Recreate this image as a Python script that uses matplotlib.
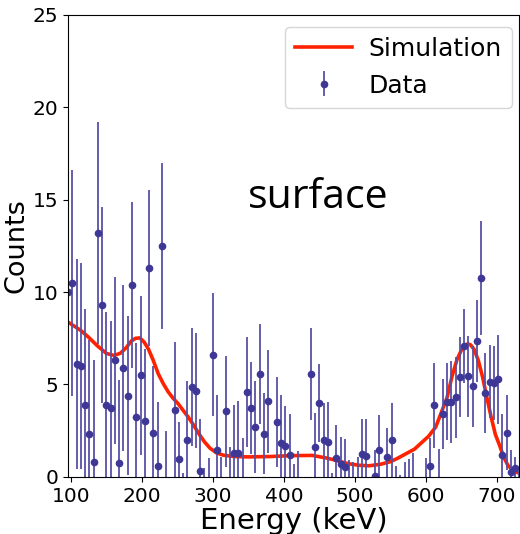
import numpy as np
import matplotlib
matplotlib.use('Agg')
import matplotlib.pyplot as plt

# measured spectrum, 6 keV bins
energy = np.arange(96, 733, 6)
counts = [10.0, 10.5, 6.1, 6.0, 3.9, 2.3, 0.8, 13.2, 9.3, 3.9,
          3.75, 6.3, 0.75, 5.9, 4.4, 10.4, 3.24, 5.5, 3.0, 11.3,
          2.4, 0.57, 12.5, -1.0, -2.5, 3.6, 0.96, -2.0, 2.0, 4.85,
          4.67, 0.32, -2.0, -1.5, 6.62, 1.43, -1.5, 3.55, -1.2, 1.3,
          1.3, -0.5, 4.59, 3.72, 2.7, 5.58, 2.34, 4.09, -2.5, 2.97,
          1.85, 1.65, 1.2, -1.5, -1.0, -2.5, -2.5, 5.58, 1.64, 4.0,
          1.98, 1.89, -1.8, 1.03, 0.67, 0.54, -0.8, -0.8, -0.6, 1.22,
          1.12, -2.0, 0.06, 1.43, -2.0, 1.07, 2.0, -1.0, -1.5, -0.8,
          -0.8, -0.5, -2.0, -2.0, -0.8, 0.58, 3.87, -0.5, 3.42, 4.07,
          4.05, 4.3, 5.4, 7.1, 5.45, 4.9, 7.35, 10.76, 4.54, 5.16,
          5.06, 5.27, 1.21, 2.4, 0.25, 0.5, -0.5]
errors = [6.0, 6.1, 5.7, 5.6, 5.2, 5.1, 5.5, 6.0, 5.3, 5.0,
          4.7, 4.5, 4.5, 4.5, 4.3, 4.5, 4.0, 4.3, 3.9, 4.2,
          3.6, 3.5, 4.5, 3.5, 2.0, 3.7, 2.0, 2.2, 3.2, 3.2,
          3.1, 2.8, 2.5, 2.5, 3.35, 3.0, 2.6, 3.0, 2.8, 2.6,
          2.8, 2.6, 3.0, 2.5, 2.5, 2.7, 2.2, 2.8, 2.0, 2.45,
          2.6, 2.2, 2.2, 2.2, 2.4, 2.0, 2.0, 2.5, 1.8, 2.1,
          2.0, 2.16, 2.0, 1.8, 1.5, 1.5, 1.7, 1.6, 1.7, 1.9,
          2.0, 1.5, 1.4, 1.9, 1.5, 1.6, 2.0, 1.6, 1.6, 1.6,
          1.75, 1.8, 1.5, 1.5, 1.8, 1.5, 2.3, 2.0, 1.9, 2.1,
          2.2, 2.2, 2.16, 2.0, 2.2, 2.2, 2.2, 3.1, 2.14, 2.0,
          2.0, 2.4, 2.2, 2.05, 1.2, 0.6, 0.8]

# simulated spectrum
sim_energy = [96, 105, 114, 125, 137, 150, 161, 170, 178, 185,
              191, 197, 203, 209, 216, 223, 230, 237, 244, 251,
              258, 265, 272, 280, 288, 296, 305, 315, 330, 350,
              380, 410, 440, 460, 475, 490, 505, 520, 536, 550,
              560, 572, 584, 594, 604, 614, 622, 630, 637, 644,
              650, 655, 659, 663, 668, 674, 680, 686, 692, 698,
              704, 710, 716, 722, 728, 732]
sim_counts = [8.37, 8.15, 7.92, 7.55, 7.1, 6.68, 6.57, 6.7, 7.0, 7.35,
              7.5, 7.52, 7.3, 6.93, 6.3, 5.58, 5.05, 4.6, 4.25, 3.96,
              3.6, 3.25, 2.85, 2.35, 1.9, 1.55, 1.3, 1.17, 1.1, 1.08,
              1.1, 1.15, 1.16, 1.02, 0.88, 0.72, 0.63, 0.6, 0.68, 0.82,
              1.0, 1.25, 1.5, 1.85, 2.2, 2.7, 3.5, 4.3, 5.45, 6.35,
              6.85, 7.1, 7.2, 7.15, 6.9, 6.3, 5.4, 4.3, 3.25, 2.3,
              1.7, 1.05, 0.6, 0.4, 0.25, 0.2]

fig = plt.figure(figsize=(5.2, 5.34), dpi=100)
ax = fig.add_axes([0.131, 0.107, 0.868, 0.865])

ax.plot(sim_energy, sim_counts, color='#ff2200', lw=2.6, label='Simulation')
ax.errorbar(energy, counts, yerr=errors, fmt='o', ms=4.5, color='#3e3796',
            ecolor='#5750a6', elinewidth=1.3, capsize=0, label='Data')

ax.set_xlim(96, 732)
ax.set_ylim(0, 25)
ax.set_yticks([0, 5, 10, 15, 20, 25])
ax.set_xticks([100, 200, 300, 400, 500, 600, 700])
ax.tick_params(labelsize=14.5)
ax.set_xlabel('Energy (keV)', fontsize=21, labelpad=1)
ax.set_ylabel('Counts', fontsize=19.5, labelpad=2)

ax.text(0.555, 0.605, 'surface', transform=ax.transAxes, fontsize=29.5,
        ha='center', va='center', family='Open Sans')

ax.legend(loc='upper right', bbox_to_anchor=(1.0, 0.99), fontsize=18,
          handlelength=2.3, handletextpad=0.65, borderaxespad=0.3)

fig.savefig('out.png', dpi=100)
